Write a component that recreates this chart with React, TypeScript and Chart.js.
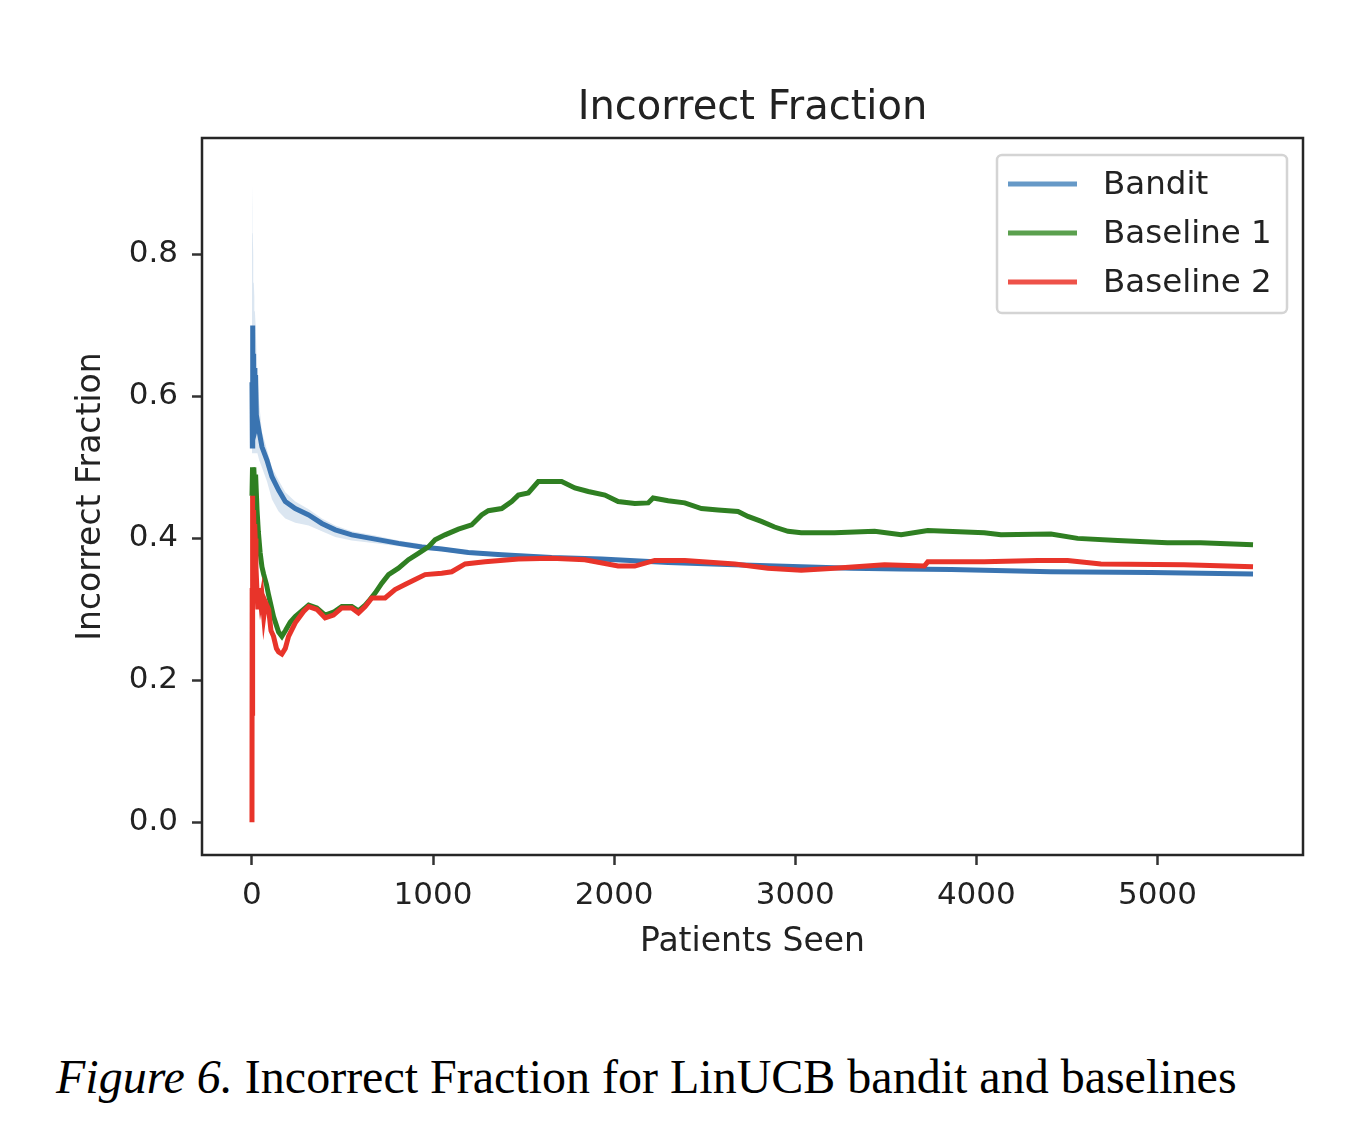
import { useEffect, useRef } from 'react';
import { Chart, registerables, Plugin } from 'chart.js';

Chart.register(...registerables);

const FONT = '"DejaVu Sans", sans-serif';

const chartTitle = 'Incorrect Fraction';
const xTitle = 'Patients Seen';
const yTitle = 'Incorrect Fraction';
const caption = 'Incorrect Fraction for LinUCB bandit and baselines';

const xTicks = [0, 1000, 2000, 3000, 4000, 5000];
const yTicks = [0, 0.2, 0.4, 0.6, 0.8];

const seriesNames = ['Bandit', 'Baseline 1', 'Baseline 2'];
const lineColors = ['#3a74b1', '#2f7f22', '#e8342a'];
const legendColors = ['#6699c7', '#5ba04e', '#ee5249'];

// Bandit mean with its shaded band
const banditX = [0, 2, 4, 6, 8, 10, 13, 16, 20, 25, 30, 40, 55, 83, 110, 147, 184, 239, 313, 386, 460, 551, 680, 809, 938, 1048, 1195, 1379, 1655, 1930, 2298, 2666, 3033, 3309, 3585, 3861, 4412, 4964, 5528];
const banditY = [0.62, 0.53, 0.70, 0.55, 0.66, 0.56, 0.64, 0.55, 0.63, 0.56, 0.565, 0.55, 0.529, 0.51, 0.487, 0.468, 0.452, 0.442, 0.433, 0.421, 0.412, 0.405, 0.399, 0.393, 0.388, 0.385, 0.38, 0.377, 0.373, 0.371, 0.366, 0.363, 0.36, 0.358, 0.357, 0.356, 0.353, 0.352, 0.35];
const banditUpper = [0.9, 0.86, 0.83, 0.8, 0.78, 0.76, 0.74, 0.72, 0.7, 0.66, 0.63, 0.59, 0.55, 0.525, 0.5, 0.482, 0.465, 0.452, 0.441, 0.428, 0.418, 0.41, 0.404, 0.397, 0.392, 0.388, 0.383, 0.38, 0.376, 0.373, 0.368, 0.365, 0.362, 0.36, 0.359, 0.358, 0.355, 0.354, 0.352];
const banditLower = [0.52, 0.52, 0.52, 0.52, 0.52, 0.52, 0.52, 0.52, 0.52, 0.52, 0.52, 0.51, 0.5, 0.48, 0.455, 0.438, 0.428, 0.422, 0.418, 0.41, 0.402, 0.397, 0.393, 0.389, 0.384, 0.382, 0.377, 0.374, 0.37, 0.368, 0.364, 0.361, 0.358, 0.356, 0.355, 0.354, 0.351, 0.35, 0.348];

const baseline1X = [0, 3, 6, 10, 15, 20, 28, 35, 45, 55, 64, 80, 92, 119, 147, 165, 184, 211, 239, 285, 313, 358, 404, 450, 496, 551, 588, 625, 643, 680, 717, 754, 809, 864, 919, 974, 1011, 1066, 1140, 1213, 1268, 1305, 1379, 1434, 1471, 1526, 1581, 1710, 1783, 1857, 1949, 2022, 2114, 2188, 2215, 2298, 2390, 2482, 2574, 2684, 2739, 2813, 2886, 2960, 3033, 3217, 3438, 3585, 3732, 4044, 4136, 4412, 4559, 4780, 5055, 5239, 5528];
const baseline1Y = [0.46, 0.5, 0.46, 0.5, 0.47, 0.49, 0.44, 0.41, 0.38, 0.36, 0.35, 0.335, 0.32, 0.29, 0.268, 0.262, 0.27, 0.282, 0.29, 0.3, 0.306, 0.302, 0.292, 0.296, 0.304, 0.304, 0.298, 0.306, 0.311, 0.323, 0.337, 0.349, 0.358, 0.37, 0.379, 0.388, 0.398, 0.405, 0.413, 0.419, 0.433, 0.439, 0.442, 0.452, 0.461, 0.464, 0.48, 0.48, 0.471, 0.466, 0.461, 0.452, 0.449, 0.45, 0.457, 0.453, 0.45, 0.442, 0.44, 0.438, 0.431, 0.424, 0.416, 0.41, 0.408, 0.408, 0.41, 0.405, 0.411, 0.408, 0.405, 0.406, 0.4, 0.397, 0.394, 0.394, 0.391];

const baseline2X = [0, 1, 2, 3, 4, 5, 7, 9, 12, 15, 18, 22, 27, 33, 40, 48, 55, 65, 75, 92, 105, 119, 135, 147, 165, 184, 202, 239, 285, 313, 358, 404, 450, 496, 551, 588, 625, 662, 735, 790, 845, 901, 956, 1048, 1103, 1177, 1287, 1471, 1655, 1838, 2022, 2114, 2224, 2390, 2666, 2849, 3033, 3217, 3493, 3713, 3732, 4044, 4339, 4504, 4688, 5147, 5528];
const baseline2Y = [0.0, 0.33, 0.15, 0.46, 0.3, 0.42, 0.34, 0.44, 0.38, 0.42, 0.4, 0.36, 0.33, 0.3, 0.33, 0.31, 0.32, 0.29, 0.31, 0.3, 0.27, 0.262, 0.245, 0.24, 0.237, 0.245, 0.262, 0.281, 0.297, 0.304, 0.3, 0.288, 0.292, 0.302, 0.302, 0.295, 0.304, 0.316, 0.316, 0.328, 0.335, 0.342, 0.349, 0.351, 0.353, 0.364, 0.367, 0.371, 0.372, 0.37, 0.361, 0.361, 0.369, 0.369, 0.364, 0.358, 0.355, 0.358, 0.363, 0.361, 0.367, 0.367, 0.369, 0.369, 0.364, 0.363, 0.36];

const zip = (xs: number[], ys: number[]) => xs.map((x, i) => ({ x, y: ys[i] }));

// frame, title and legend drawn the matplotlib way
const decorations: Plugin = {
  id: 'decorations',
  afterDraw(chart) {
    const { ctx, chartArea: a } = chart;
    ctx.save();
    ctx.strokeStyle = '#262626';
    ctx.lineWidth = 2.5;
    ctx.strokeRect(a.left, a.top, a.right - a.left, a.bottom - a.top);

    ctx.fillStyle = '#222';
    ctx.font = `40px ${FONT}`;
    ctx.textAlign = 'center';
    ctx.textBaseline = 'middle';
    ctx.fillText(chartTitle, (a.left + a.right) / 2, a.top - 29);

    const bx = a.right - 306;
    const by = a.top + 17;
    ctx.beginPath();
    ctx.roundRect(bx, by, 290, 158, 5);
    ctx.fillStyle = 'rgba(255,255,255,0.85)';
    ctx.fill();
    ctx.strokeStyle = '#d4d4d4';
    ctx.lineWidth = 2.5;
    ctx.stroke();

    ctx.font = `32.5px ${FONT}`;
    ctx.textAlign = 'left';
    seriesNames.forEach((name, i) => {
      const y = by + 29 + i * 49;
      ctx.strokeStyle = legendColors[i];
      ctx.lineWidth = 5;
      ctx.beginPath();
      ctx.moveTo(bx + 11, y);
      ctx.lineTo(bx + 80, y);
      ctx.stroke();
      ctx.fillStyle = '#222';
      ctx.fillText(name, bx + 106, y + 2);
    });
    ctx.restore();
  },
};

function IncorrectFractionChart() {
  const canvasRef = useRef<HTMLCanvasElement | null>(null);
  const chartRef = useRef<Chart | null>(null);

  useEffect(() => {
    if (!canvasRef.current) return undefined;
    chartRef.current?.destroy();

    const tickFont = { family: FONT, size: 31 };
    const titleFont = { family: FONT, size: 33 };
    const line = (label: string, xs: number[], ys: number[], color: string, order: number) => ({
      label,
      data: zip(xs, ys),
      borderColor: color,
      backgroundColor: color,
      borderWidth: 5,
      pointRadius: 0,
      tension: 0,
      fill: false,
      order,
    });

    chartRef.current = new Chart(canvasRef.current, {
      type: 'line',
      data: {
        datasets: [
          line(seriesNames[2], baseline2X, baseline2Y, lineColors[2], 0),
          line(seriesNames[1], baseline1X, baseline1Y, lineColors[1], 1),
          line(seriesNames[0], banditX, banditY, lineColors[0], 2),
          {
            label: 'Bandit upper',
            data: zip(banditX, banditUpper),
            borderWidth: 0,
            borderColor: 'rgba(0,0,0,0)',
            pointRadius: 0,
            fill: false,
            order: 3,
          },
          {
            label: 'Bandit lower',
            data: zip(banditX, banditLower),
            borderWidth: 0,
            borderColor: 'rgba(0,0,0,0)',
            backgroundColor: 'rgba(58,116,177,0.18)',
            pointRadius: 0,
            fill: 3,
            order: 4,
          },
        ],
      },
      options: {
        animation: false,
        responsive: true,
        maintainAspectRatio: false,
        layout: { padding: { top: 138, right: 63, left: 0, bottom: 0 } },
        plugins: {
          legend: { display: false },
          title: { display: false },
          tooltip: { enabled: false },
        },
        scales: {
          x: {
            type: 'linear',
            min: -276,
            max: 5804,
            afterBuildTicks: (s: any) => {
              s.ticks = xTicks.map((value) => ({ value }));
            },
            afterFit: (s: any) => {
              s.height = 145;
            },
            grid: { drawOnChartArea: false, drawTicks: true, tickLength: 10, tickWidth: 2.5, tickColor: '#333' },
            border: { display: false },
            ticks: {
              font: tickFont,
              color: '#222',
              padding: 12,
              maxRotation: 0,
              autoSkip: false,
              callback: (v: any) => String(v),
            },
            title: { display: true, text: xTitle, font: titleFont, color: '#222', padding: { top: 0, bottom: 38 } },
          },
          y: {
            type: 'linear',
            min: -0.046,
            max: 0.964,
            afterBuildTicks: (s: any) => {
              s.ticks = yTicks.map((value) => ({ value }));
            },
            afterFit: (s: any) => {
              s.width = 202;
            },
            grid: { drawOnChartArea: false, drawTicks: true, tickLength: 10, tickWidth: 2.5, tickColor: '#333' },
            border: { display: false },
            ticks: {
              font: tickFont,
              color: '#222',
              padding: 14,
              callback: (v: any) => Number(v).toFixed(1),
            },
            title: { display: true, text: yTitle, font: titleFont, color: '#222', padding: { top: 72, bottom: 0 } },
          },
        },
      },
      plugins: [decorations],
    });

    return () => {
      chartRef.current?.destroy();
      chartRef.current = null;
    };
  }, []);

  return <canvas ref={canvasRef} />;
}

export default function App() {
  return (
    <div style={{ position: 'absolute', left: 0, top: 0, width: 1366, height: 1144, background: '#fff' }}>
      <div style={{ position: 'absolute', left: 0, top: 0, width: 1366, height: 1000 }}>
        <IncorrectFractionChart />
      </div>
      <div
        style={{
          position: 'absolute',
          left: 56,
          top: 1053,
          fontFamily: '"Liberation Serif", "Times New Roman", serif',
          fontSize: 48,
          lineHeight: 1,
          whiteSpace: 'nowrap',
          color: '#000',
        }}
      >
        <i>Figure 6.</i> {caption}
      </div>
    </div>
  );
}
